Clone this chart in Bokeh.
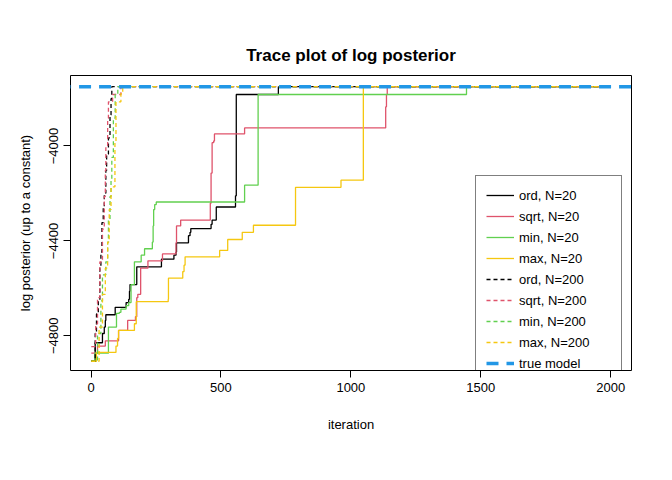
from bokeh.plotting import figure
from bokeh.models import Range1d, FixedTicker, Legend, LegendItem
from bokeh.embed import file_html
from bokeh.resources import INLINE

N_ITER = 2000
TRUE_LP = -3750

ord20_it = [1,16,44,51,55,57,93,135,145,148,150,176,271,319,327,329,375,381,384,462,466,482,556,559,721]
ord20_lp = [-4907,-4829,-4790,-4763,-4735,-4711,-4680,-4660,-4646,-4612,-4584,-4509,-4477,-4460,-4447,-4408,-4378,-4364,-4348,-4330,-4312,-4257,-4210,-3783,-3750]
sqrt20_it = [1,25,55,106,141,171,176,180,191,219,275,327,329,345,459,462,466,472,475,591,1134,1137,1140]
sqrt20_lp = [-4873,-4843,-4821,-4777,-4735,-4719,-4639,-4625,-4515,-4484,-4455,-4408,-4337,-4312,-4241,-4114,-3986,-3979,-3949,-3924,-3835,-3783,-3750]
min20_it = [1,15,67,98,109,115,135,145,154,167,193,206,236,239,241,245,251,591,643,1445]
min20_lp = [-4907,-4873,-4763,-4705,-4701,-4687,-4673,-4660,-4584,-4488,-4460,-4433,-4405,-4337,-4268,-4247,-4236,-4165,-3783,-3750]
max20_it = [1,21,96,102,106,167,174,297,298,353,358,362,495,526,582,625,787,962,1048]
max20_lp = [-4907,-4870,-4843,-4811,-4777,-4749,-4656,-4646,-4557,-4529,-4502,-4467,-4440,-4394,-4364,-4334,-4174,-4144,-3750]

ord200_it = [1,16,21,28,34,38,42,47,51,57,60,67,73,77,80]
ord200_lp = [-4907,-4790,-4708,-4653,-4515,-4447,-4323,-4254,-4199,-4103,-4034,-3966,-3869,-3801,-3750]
sqrt200_it = [1,18,25,34,44,51,55,57,64,67,83,115]
sqrt200_lp = [-4845,-4749,-4639,-4488,-4350,-4213,-4103,-4007,-3883,-3814,-3783,-3750]
min200_it = [1,25,38,44,57,64,67,73,77,80,86,93,103]
min200_lp = [-4907,-4790,-4653,-4543,-4488,-4405,-4309,-4213,-4144,-4048,-3883,-3783,-3750]
max200_it = [1,31,44,55,64,70,77,92,96,115,122]
max200_lp = [-4907,-4763,-4625,-4515,-4405,-4268,-4172,-3979,-3814,-3780,-3750]

FONT = "Liberation Sans"
p = figure(width=656, height=464, output_backend="svg", toolbar_location=None,
           x_range=Range1d(-79, 2080), y_range=Range1d(-4946, -3703),
           min_border_left=70, min_border_right=25, min_border_top=75, min_border_bottom=94,
           title="Trace plot of log posterior")
p.title.align = "center"
p.title.text_font = FONT
p.title.text_font_size = "17px"
p.title.text_font_style = "bold"
p.title.text_color = "black"
p.title.offset = 0
p.title.standoff = 22
p.grid.visible = False
p.outline_line_color = "black"
p.outline_line_width = 1
p.xaxis.ticker = FixedTicker(ticks=[0, 500, 1000, 1500, 2000])
p.yaxis.ticker = FixedTicker(ticks=[-4800, -4400, -4000])
p.yaxis.major_label_orientation = "vertical"
for ax in (p.xaxis[0], p.yaxis[0]):
    ax.minor_tick_line_color = None
    ax.major_tick_out = 7
    ax.major_tick_in = 0
    ax.axis_line_color = None
    ax.major_label_text_font = FONT
    ax.major_label_text_font_size = "13px"
    ax.major_label_text_color = "black"
    ax.axis_label_text_font = FONT
    ax.axis_label_text_font_size = "13px"
    ax.axis_label_text_font_style = "normal"
    ax.axis_label_text_color = "black"
p.xaxis.axis_label = "iteration"
p.yaxis.axis_label = "log posterior (up to a constant)"
p.xaxis.axis_label_standoff = 22
p.yaxis.axis_label_standoff = 14

cols = {"ord": "black", "sqrt": "#DF536B", "min": "#61D04F", "max": "#F5C710"}
items = []
series = [("ord, N=20", ord20_it, ord20_lp, "ord", "solid"),
          ("sqrt, N=20", sqrt20_it, sqrt20_lp, "sqrt", "solid"),
          ("min, N=20", min20_it, min20_lp, "min", "solid"),
          ("max, N=20", max20_it, max20_lp, "max", "solid"),
          ("ord, N=200", ord200_it, ord200_lp, "ord", "4 3"),
          ("sqrt, N=200", sqrt200_it, sqrt200_lp, "sqrt", "4 3"),
          ("min, N=200", min200_it, min200_lp, "min", "4 3"),
          ("max, N=200", max200_it, max200_lp, "max", "4 3")]
for name, it, lp, k, dash in series:
    xs = list(it) + [N_ITER]
    ys = list(lp) + [lp[-1]]
    r = p.step(xs, ys, mode="after", line_color=cols[k], line_width=1.3, line_dash=dash)
    items.append(LegendItem(label=name, renderers=[r]))
rt = p.line([-200, 2300], [TRUE_LP, TRUE_LP], line_color="#2297E6", line_width=3.5, line_dash="12 8")
items.append(LegendItem(label="true model", renderers=[rt]))

leg = Legend(items=items, location=(405, -13), border_line_color="black", border_line_width=1,
             label_text_font=FONT, label_text_font_size="13px", label_text_color="black",
             glyph_width=28, glyph_height=18, label_width=92,
             label_height=18, spacing=3, padding=10, margin=0, background_fill_alpha=1)
p.add_layout(leg, "center")

open("out.html", "w").write(file_html(p, INLINE))
